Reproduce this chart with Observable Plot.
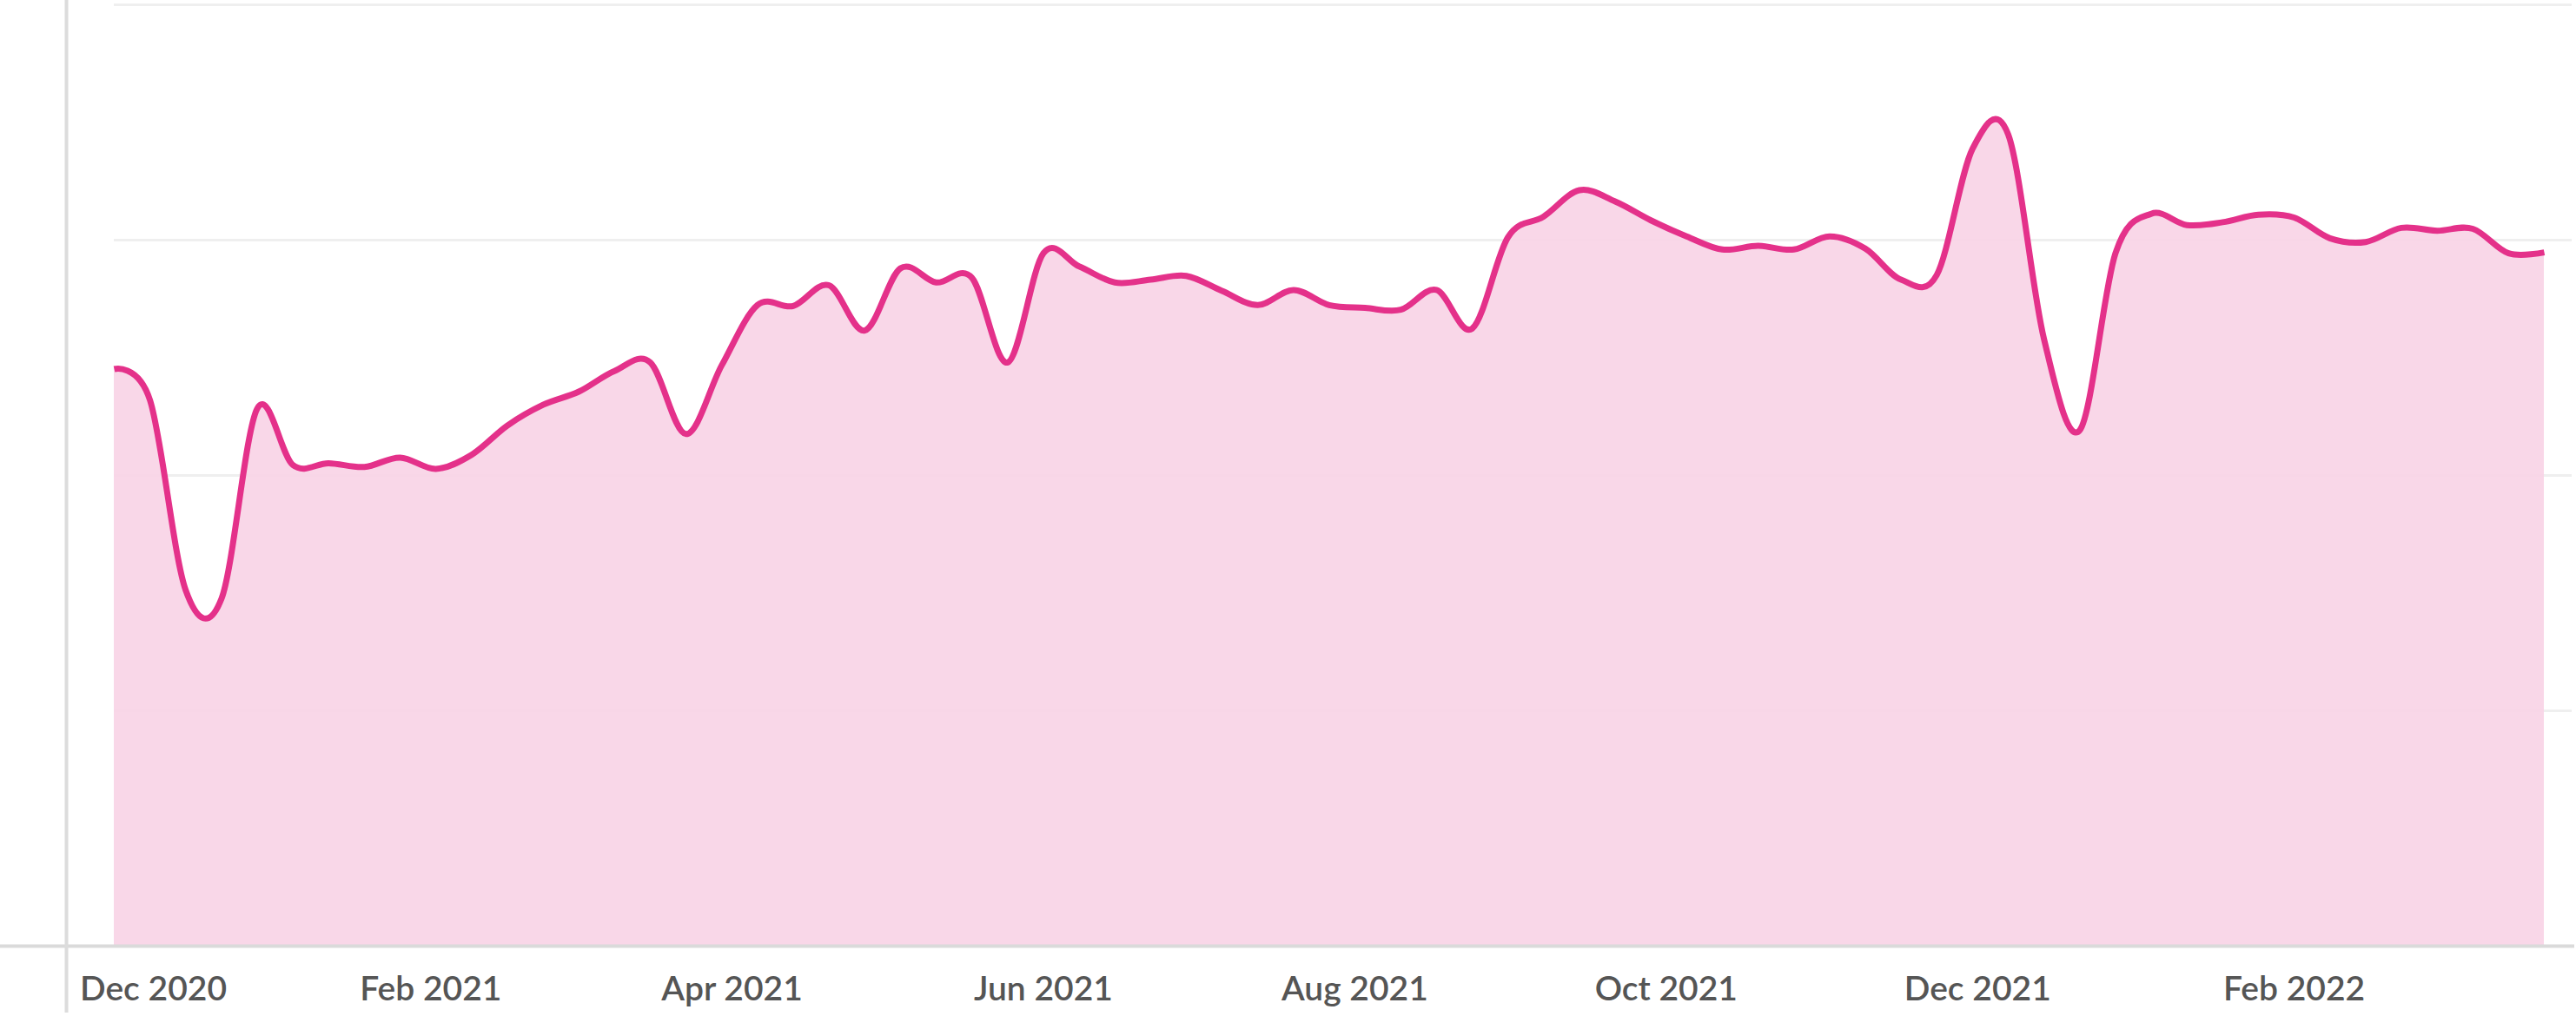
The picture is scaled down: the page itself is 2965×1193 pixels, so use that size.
<!DOCTYPE html>
<html>
<head>
<meta charset="utf-8">
<script src="https://cdn.jsdelivr.net/npm/d3@7"></script>
<script src="https://cdn.jsdelivr.net/npm/@observablehq/plot@0.6"></script>
<style>
  html, body { margin: 0; padding: 0; background: #fff; overflow: hidden; }
</style>
</head>
<body>
<div id="chart"></div>
<script>
const dates = [
  "2020-12-01","2020-12-08","2020-12-15","2020-12-22","2020-12-29",
  "2021-01-05","2021-01-12","2021-01-19","2021-01-26",
  "2021-02-02","2021-02-09","2021-02-16","2021-02-23",
  "2021-03-02","2021-03-09","2021-03-16","2021-03-23","2021-03-30",
  "2021-04-06","2021-04-13","2021-04-20","2021-04-27",
  "2021-05-04","2021-05-11","2021-05-18","2021-05-25",
  "2021-06-01","2021-06-08","2021-06-15","2021-06-22","2021-06-29",
  "2021-07-06","2021-07-13","2021-07-20","2021-07-27",
  "2021-08-03","2021-08-10","2021-08-17","2021-08-24","2021-08-31",
  "2021-09-07","2021-09-14","2021-09-21","2021-09-28",
  "2021-10-05","2021-10-12","2021-10-19","2021-10-26",
  "2021-11-02","2021-11-09","2021-11-16","2021-11-23","2021-11-30",
  "2021-12-07","2021-12-14","2021-12-21","2021-12-28",
  "2022-01-04","2022-01-11","2022-01-18","2022-01-25",
  "2022-02-01","2022-02-08","2022-02-15","2022-02-22",
  "2022-03-01","2022-03-08","2022-03-15","2022-03-22"
];

const values = [
  61.3, 58.0, 37.8, 36.9, 57.1,
  51.1, 51.3, 50.9, 51.9,
  50.7, 52.2, 55.3, 57.5,
  58.9, 61.1, 62.0, 54.4, 61.7,
  68.1, 68.0, 70.2, 65.4,
  72.0, 70.5, 71.0, 62.0,
  73.6, 72.2, 70.5, 70.8, 71.2,
  69.6, 68.1, 69.7, 68.1,
  67.8, 67.6, 69.7, 65.6, 75.3,
  77.5, 80.3, 79.1, 77.1,
  75.4, 74.0, 74.4, 74.0,
  75.4, 74.1, 70.8, 71.3, 84.7,
  86.2, 64.5, 54.8, 73.6,
  77.8, 76.6, 76.9, 77.7,
  77.4, 75.2, 74.8, 76.3,
  76.0, 76.2, 73.6, 73.7
];

const tickDates = ["2020-12-01","2021-02-01","2021-04-01","2021-06-01","2021-08-01","2021-10-01","2021-12-01","2022-02-01"];
const gridValues = [25, 50, 75, 100];

const data = dates.map((d, i) => ({date: new Date(d), value: values[i]}));
const ticks = tickDates.map(d => new Date(d));
const fmt = d3.utcFormat("%b %Y");

const axisStyle = {
  tickSize: 0,
  tickPadding: 35,
  tickFormat: fmt,
  label: null,
  fill: "#555",
  fontSize: 39,
  fontWeight: 600
};

const chart = Plot.plot({
  width: 2965,
  height: 1193,
  marginLeft: 131,
  marginRight: 37,
  marginTop: 5,
  marginBottom: 104,
  style: {
    fontFamily: "Lato, 'Source Sans Pro', 'Noto Sans', sans-serif",
    fontSize: "39px",
    background: "#fff",
    overflow: "visible"
  },
  x: {type: "utc", domain: [data[0].date, data[data.length - 1].date]},
  y: {domain: [0, 100], axis: null},
  marks: [
    Plot.ruleY(gridValues, {stroke: "#efefef", strokeWidth: 3, insetRight: -32}),
    Plot.areaY(data, {x: "date", y: "value", curve: "cardinal", fill: "#f9d4e7", fillOpacity: 0.94}),
    Plot.lineY(data, {x: "date", y: "value", curve: "cardinal", stroke: "#e4318a", strokeWidth: 7, strokeLinecap: "butt"}),
    Plot.ruleY([0], {stroke: "#dadada", strokeWidth: 4, insetLeft: -131, insetRight: -35}),
    Plot.ruleX([data[0].date], {dx: -55, stroke: "#dcdcdc", strokeWidth: 4, insetTop: -5, insetBottom: -77}),
    Plot.axisX(ticks.slice(1), axisStyle),
    Plot.axisX(ticks.slice(0, 1), {...axisStyle, dx: 45})
  ]
});

document.getElementById("chart").appendChild(chart);
</script>
</body>
</html>
